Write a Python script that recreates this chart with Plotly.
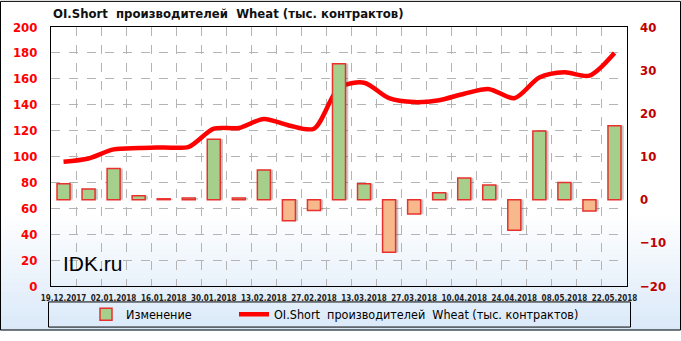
import plotly.graph_objects as go

dates = ["19.12.2017", "26.12.2017", "02.01.2018", "09.01.2018", "16.01.2018", "23.01.2018",
         "30.01.2018", "06.02.2018", "13.02.2018", "20.02.2018", "27.02.2018", "06.03.2018",
         "13.03.2018", "20.03.2018", "27.03.2018", "03.04.2018", "10.04.2018", "17.04.2018",
         "24.04.2018", "01.05.2018", "08.05.2018", "15.05.2018", "22.05.2018"]
oi_short = [96, 98.5, 105.5, 106.5, 107, 107.5, 121.5, 122, 129, 124, 121.5, 153,
            157, 145, 142, 143.5, 148.5, 152, 145, 161, 165, 162.5, 180]
change = [3.7, 2.5, 7.2, 0.9, 0.2, 0.4, 14.0, 0.4, 6.9, -4.9, -2.5, 31.5,
          3.7, -12.2, -3.3, 1.6, 5.0, 3.4, -7.1, 15.9, 4.0, -2.6, 17.1]
left_ticks = [0, 20, 40, 60, 80, 100, 120, 140, 160, 180, 200]
right_ticks = [-20, -10, 0, 10, 20, 30, 40]

series_name = "OI.Short  производителей  Wheat (тыс. контрактов)"
FONT = "DejaVu Sans Condensed, DejaVu Sans, sans-serif"

W, H = 681, 341
ML, MR, MT, MB = 51, 54, 27, 46
PW, PH = W - ML - MR, H - MT - MB

xs = list(range(len(dates)))
bar_colors = ["#a6cf8c" if v >= 0 else "#f7b98c" for v in change]
BW = 0.52

fig = go.Figure()
# soft shadow behind the bars
fig.add_trace(go.Bar(
    x=xs, y=change, yaxis="y2", width=BW, offset=-BW / 2 + 0.11, showlegend=False,
    hoverinfo="skip", marker=dict(color="rgba(60,60,60,0.28)", line=dict(width=0)),
))
fig.add_trace(go.Bar(
    x=xs, y=change, yaxis="y2", name="Изменение", width=BW, offset=-BW / 2, legend="legend",
    marker=dict(color=bar_colors, line=dict(color="#e8302c", width=1.5)),
))
fig.add_trace(go.Scatter(
    x=xs, y=oi_short, yaxis="y", name=series_name, mode="lines", legend="legend2",
    line=dict(color="#ff0000", width=4.5, shape="spline", smoothing=0.8),
))


def px2py(py):
    return (H - MB - py) / PH


def px2px(px):
    return (px - ML) / PW


shapes = []
g0, g1 = 222, H
n = 24
for i in range(n):
    t = (i + 0.5) / n
    r = int(255 - (255 - 218) * t)
    g = int(255 - (255 - 233) * t)
    b = int(255 - (255 - 249) * t)
    y0 = g0 + (g1 - g0) * i / n
    y1 = g0 + (g1 - g0) * (i + 1) / n + 0.6
    shapes.append(dict(type="rect", xref="paper", yref="paper", layer="below",
                       x0=px2px(0), x1=px2px(W), y0=px2py(y1), y1=px2py(y0),
                       line=dict(width=0), fillcolor=f"rgb({r},{g},{b})"))
shapes.append(dict(type="rect", xref="paper", yref="paper", layer="below",
                   x0=px2px(48.5), x1=px2px(630.5), y0=px2py(337.5), y1=px2py(311.5),
                   line=dict(color="black", width=1), fillcolor="rgba(0,0,0,0)"))
shapes.append(dict(type="rect", xref="paper", yref="paper", layer="above",
                   x0=px2px(0.5), x1=px2px(W - 0.5), y0=px2py(H - 0.5), y1=px2py(0.5),
                   line=dict(color="black", width=1), fillcolor="rgba(0,0,0,0)"))

legend_common = dict(orientation="h", yanchor="middle", bgcolor="rgba(0,0,0,0)",
                     font=dict(size=12.5, family=FONT, color="black"), itemwidth=30,
                     borderwidth=0)

fig.update_layout(
    width=W, height=H,
    margin=dict(l=ML, r=MR, t=MT, b=MB),
    paper_bgcolor="white", plot_bgcolor="rgba(0,0,0,0)",
    font=dict(family=FONT, color="black"),
    shapes=shapes,
    showlegend=True,
    barmode="overlay",
    legend=dict(x=px2px(86), xanchor="left", y=px2py(324.5), **legend_common),
    legend2=dict(x=px2px(234), xanchor="left", y=px2py(324.5), **legend_common),
    xaxis=dict(
        range=[-0.5, len(dates) - 0.5],
        tickmode="array", tickvals=xs[::2], ticktext=dates[::2], tickangle=0,
        tickfont=dict(size=8, family=FONT, color="#222222", weight="bold"),
        showgrid=False, ticks="", ticklabelstandoff=4,
        showline=True, linecolor="black", linewidth=1, mirror=True,
        minor=dict(tickmode="array", tickvals=[i + 0.5 for i in xs[:-1]], showgrid=True,
                   gridcolor="#b4b4b4", griddash="dash", gridwidth=1, ticks=""),
        zeroline=False,
    ),
    yaxis=dict(
        range=[0, 200], tickmode="array", tickvals=left_ticks,
        tickfont=dict(size=13, color="#ff0000", family=FONT, weight="bold"),
        showgrid=True, gridcolor="#b4b4b4", griddash="dash", gridwidth=1,
        showline=True, linecolor="black", linewidth=1, mirror=True,
        zeroline=False, ticks="", ticklabelstandoff=10,
    ),
    yaxis2=dict(
        range=[-20, 40], tickmode="array", tickvals=right_ticks, overlaying="y", side="right",
        tickfont=dict(size=13, color="#c00000", family=FONT, weight="bold"),
        showgrid=False, zeroline=False, ticks="", ticklabelstandoff=12,
    ),
    title=dict(text="<b>" + series_name + "</b>", x=53 / W, xanchor="left",
               xref="container", y=1 - 13 / H, yanchor="middle",
               font=dict(size=13, family=FONT, color="#111111")),
    annotations=[dict(text="IDK.ru", xref="paper", yref="paper", x=px2px(61), y=px2py(272),
                      xanchor="left", yanchor="middle", showarrow=False,
                      font=dict(size=21, family="Liberation Sans, Arial", color="black"))],
)

fig.write_html("out.html")
